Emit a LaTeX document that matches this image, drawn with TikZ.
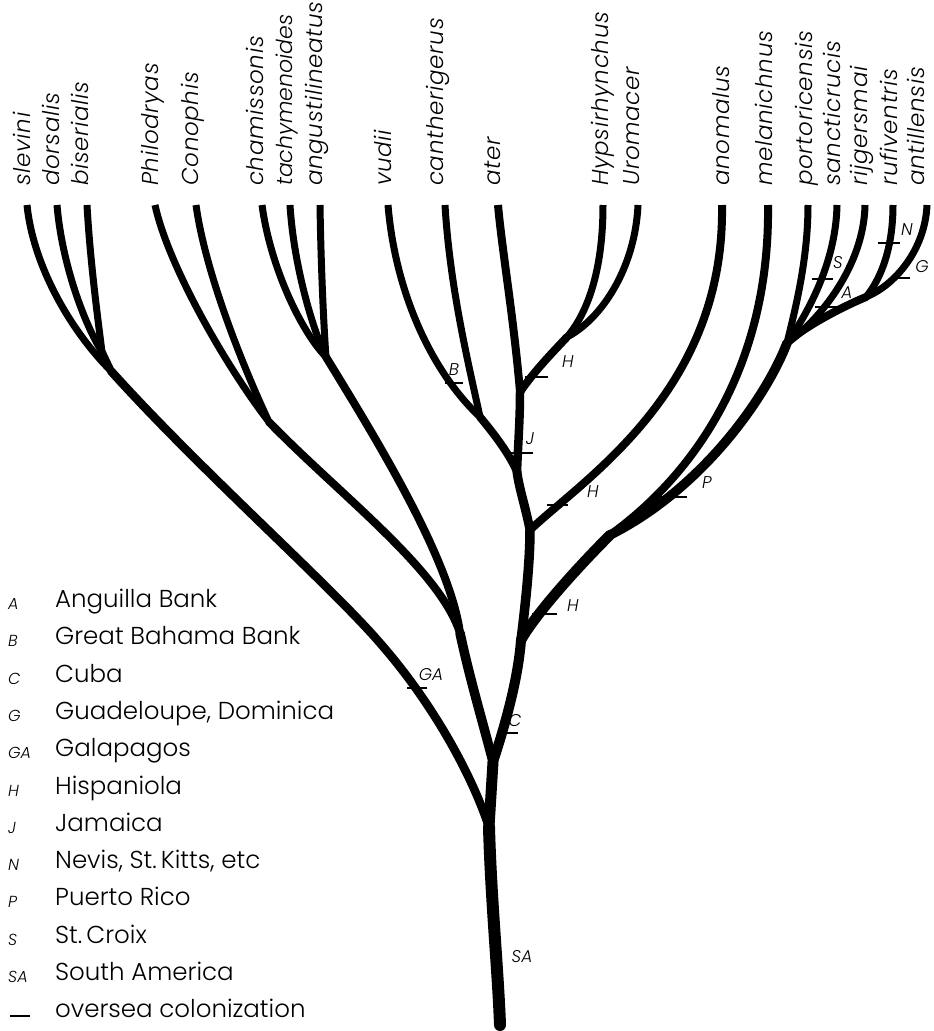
\documentclass[tikz,border=0pt]{standalone}
\usepackage{fontspec}
\newfontfamily\pop{Poppins}[UprightFont=* Light, ItalicFont=* Light Italic]
\newfontfamily\popls{Poppins}[UprightFont=* Light, ItalicFont=* Light Italic, LetterSpace=3]
\begin{document}
\begin{tikzpicture}[x=1pt,y=-1pt,
  br/.style={line width=#1, line cap=round},
  tipbr/.style={line width=#1, line cap=butt},
  tick/.style={line width=1.4pt},
  taxon/.style={rotate=90, anchor=mid west, inner sep=0pt, font=\popls\itshape\fontsize{23}{23}\selectfont},
  mk/.style={font=\pop\itshape\fontsize{17}{17}\selectfont, inner sep=0pt},
  legname/.style={anchor=mid west, inner sep=0pt, font=\pop\fontsize{24.5}{24.5}\selectfont},
  legab/.style={anchor=mid west, inner sep=0pt, font=\pop\itshape\fontsize{16}{16}\selectfont}
]
\useasboundingbox (0,0) rectangle (934,1031);
% internal nodes
\coordinate (R) at (500,1025);
\coordinate (N1) at (489,827);
\coordinate (N2) at (493,762);
\coordinate (N3) at (460,633);
\coordinate (N4) at (521,640);
\coordinate (N5) at (530,530);
\coordinate (N6) at (517,472);
\coordinate (N7) at (520,392);
\coordinate (HU) at (567,337);
\coordinate (VC) at (480,417);
\coordinate (Mx) at (610,535);
\coordinate (PG) at (787,343);
\coordinate (RA) at (866,297);
\coordinate (L1) at (111,371);
\coordinate (DB) at (102,352);
\coordinate (L2) at (269,422);
\coordinate (L3) at (326,357);
\coordinate (GAmid) at (380,643);
% tips
\coordinate (t1) at (27,205);
\coordinate (t2) at (57,205);
\coordinate (t3) at (87,205);
\coordinate (t4) at (155,205);
\coordinate (t5) at (196,205);
\coordinate (t6) at (262,205);
\coordinate (t7) at (290,205);
\coordinate (t8) at (320,205);
\coordinate (t9) at (388,205);
\coordinate (t10) at (445,205);
\coordinate (t11) at (498,205);
\coordinate (t12) at (603,205);
\coordinate (t13) at (638,205);
\coordinate (t14) at (722,205);
\coordinate (t15) at (768,205);
\coordinate (t16) at (808,205);
\coordinate (t17) at (837,205);
\coordinate (t18) at (865,205);
\coordinate (t19) at (893,205);
\coordinate (t20) at (927,205);
% internal branches
\draw[br=12pt] (R) .. controls (498,970) and (491,900) .. (N1);
\draw[br=11pt] (N1) -- (N2);
\draw[br=8.5pt] (N1) .. controls (470,770) and (430,700) .. (GAmid) .. controls (330,585) and (200,470) .. (L1);
\draw[br=9.5pt] (N2) .. controls (485,730) and (470,680) .. (N3);
\draw[br=8pt] (N3) .. controls (440,570) and (340,495) .. (L2);
\draw[br=8pt] (N3) .. controls (450,560) and (380,445) .. (L3);
\draw[br=7.5pt] (L1) -- (DB);
\draw[br=10pt] (N2) .. controls (505,725) and (518,680) .. (N4);
\draw[br=9.5pt] (N4) .. controls (526,600) and (530,560) .. (N5);
\draw[br=9pt] (N5) .. controls (525,505) and (519,488) .. (N6);
\draw[br=8.5pt] (N6) .. controls (518,445) and (520,420) .. (N7);
\draw[br=8pt] (N7) .. controls (535,370) and (555,350) .. (HU);
\draw[br=8pt] (N6) .. controls (510,455) and (495,435) .. (VC);
\draw[br=10.5pt] (N4) .. controls (535,615) and (575,570) .. (Mx);
\draw[br=9.5pt] (Mx) .. controls (700,490) and (765,400) .. (PG);
\draw[br=8pt] (PG) .. controls (800,330) and (835,310) .. (RA);
% terminal branches
\draw[tipbr=7pt] (t1) .. controls (33,265) and (70,330) .. (L1);
\draw[tipbr=7pt] (t2) .. controls (62,265) and (85,325) .. (DB);
\draw[tipbr=7pt] (t3) .. controls (90,260) and (98,320) .. (DB);
\draw[tipbr=7pt] (t4) .. controls (168,265) and (225,365) .. (L2);
\draw[tipbr=7pt] (t5) .. controls (205,270) and (240,360) .. (L2);
\draw[tipbr=7pt] (t6) .. controls (270,265) and (300,330) .. (L3);
\draw[tipbr=7pt] (t7) .. controls (294,270) and (315,335) .. (L3);
\draw[tipbr=7pt] (t8) .. controls (321,270) and (324,330) .. (L3);
\draw[tipbr=7pt] (t9) .. controls (395,290) and (430,370) .. (VC);
\draw[tipbr=7pt] (t10) .. controls (450,290) and (470,370) .. (VC);
\draw[tipbr=8pt] (t11) .. controls (502,250) and (514,320) .. (N7);
\draw[tipbr=7pt] (t12) .. controls (603,265) and (590,310) .. (HU);
\draw[tipbr=7pt] (t13) .. controls (635,270) and (600,320) .. (HU);
\draw[tipbr=8pt] (t14) .. controls (725,390) and (585,478) .. (N5);
\draw[tipbr=8pt] (t15) .. controls (770,360) and (700,470) .. (Mx);
\draw[tipbr=7pt] (t16) .. controls (808,260) and (795,310) .. (PG);
\draw[tipbr=7pt] (t17) .. controls (836,260) and (810,310) .. (PG);
\draw[tipbr=7pt] (t18) .. controls (864,265) and (820,320) .. (PG);
\draw[tipbr=7pt] (t19) .. controls (893,250) and (880,280) .. (RA);
\draw[tipbr=7pt] (t20) .. controls (925,250) and (895,285) .. (RA);
% taxon labels
\node[taxon] (n1) at (28,186) {slevini};
\node[taxon] (n2) at (57,186) {dorsalis};
\node[taxon] (n3) at (86,186) {biserialis};
\node[taxon] (n4) at (156,186) {Philodryas};
\node[taxon] (n5) at (196,186) {Conophis};
\node[taxon] (n6) at (261,186) {chamissonis};
\node[taxon, font=\pop\itshape\fontsize{22}{22}\selectfont] (n7) at (290,186) {tachymenoides};
\node[taxon] (n8) at (320,186) {angustilineatus};
\node[taxon] (n9) at (389,186) {vudii};
\node[taxon] (n10) at (441,186) {cantherigerus};
\node[taxon] (n11) at (498,186) {ater};
\node[taxon] (n12) at (606,186) {Hypsirhynchus};
\node[taxon] (n13) at (637,186) {Uromacer};
\node[taxon] (n14) at (727,186) {anomalus};
\node[taxon] (n15) at (770,186) {melanichnus};
\node[taxon] (n16) at (810,186) {portoricensis};
\node[taxon] (n17) at (838,186) {sancticrucis};
\node[taxon] (n18) at (865,186) {rijgersmai};
\node[taxon] (n19) at (895,186) {rufiventris};
\node[taxon] (n20) at (922,186) {antillensis};
% colonization marks
\draw[tick] (445,383) -- (463,383); \node[mk] (mB) at (454,370) {B};
\draw[tick] (525,377) -- (548,377); \node[mk] (mH1) at (568,362) {H};
\draw[tick] (510,453) -- (533,453); \node[mk] (mJ) at (530,439) {J};
\draw[tick] (547,505) -- (568,505); \node[mk] (mH2) at (593,492) {H};
\draw[tick] (655,497) -- (687,497); \node[mk] (mP) at (707,483) {P};
\draw[tick] (532,614) -- (557,614); \node[mk] (mH3) at (573,606) {H};
\draw[tick] (497,733) -- (518,733); \node[mk] (mC) at (515,721) {C};
\draw[tick] (407,688) -- (427,688); \node[mk] (mGA) at (431,675) {GA};
\node[mk] (mSA) at (522,957) {SA};
\draw[tick] (812,279) -- (833,279); \node[mk] (mS) at (838,263) {S};
\draw[tick] (815,307) -- (837,307); \node[mk] (mA) at (847,293) {A};
\draw[tick] (878,243) -- (900,243); \node[mk] (mN) at (907,230) {N};
\draw[tick] (890,278) -- (910,278); \node[mk] (mG) at (922,267) {G};
% legend
\node[legab] (a1) at (8,607) {A};   \node[legname] (l1) at (55,605) {Anguilla Bank};
\node[legab] (a2) at (8,644) {B};   \node[legname] (l2) at (55,642) {Great Bahama Bank};
\node[legab] (a3) at (8,682) {C};   \node[legname] (l3) at (55,680) {Cuba};
\node[legab] (a4) at (8,719) {G};   \node[legname] (l4) at (55,717) {Guadeloupe, Dominica};
\node[legab] (a5) at (8,756) {GA};  \node[legname] (l5) at (55,754) {Galapagos};
\node[legab] (a6) at (8,794) {H};   \node[legname] (l6) at (55,792) {Hispaniola};
\node[legab] (a7) at (8,831) {J};   \node[legname] (l7) at (55,829) {Jamaica};
\node[legab] (a8) at (8,868) {N};   \node[legname] (l8) at (55,866) {Nevis, St.\,Kitts, etc};
\node[legab] (a9) at (8,905) {P};   \node[legname] (l9) at (55,903) {Puerto Rico};
\node[legab] (a10) at (8,943) {S};  \node[legname] (l10) at (55,941) {St.\,Croix};
\node[legab] (a11) at (8,980) {SA}; \node[legname] (l11) at (55,978) {South America};
\draw[line width=1.2pt] (10,1016) -- (30,1016); \node[legname] (l12) at (55,1015) {oversea colonization};
\end{tikzpicture}
\end{document}
